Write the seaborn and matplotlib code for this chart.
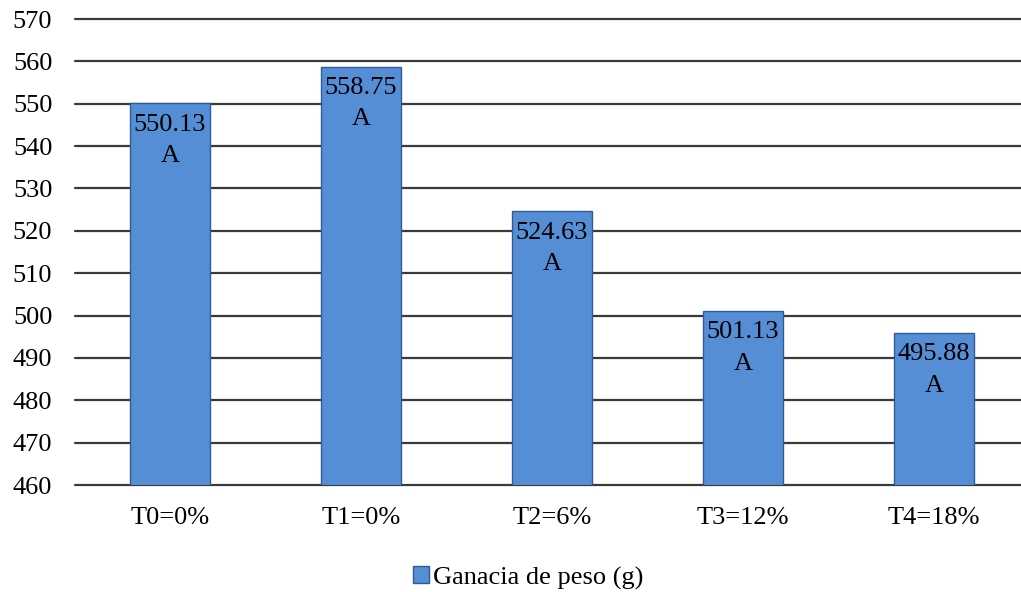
import matplotlib
matplotlib.use("Agg")
import matplotlib.pyplot as plt
import seaborn as sns
import pandas as pd
from matplotlib.patches import Patch

tratamientos = ["T0=0%", "T1=0%", "T2=6%", "T3=12%", "T4=18%"]
ganancia = [550.13, 558.75, 524.63, 501.13, 495.88]
letras = ["A", "A", "A", "A", "A"]
serie = "Ganacia de peso (g)"

df = pd.DataFrame({"Tratamiento": tratamientos, serie: ganancia})

sns.set_theme(style="white")
plt.rcParams["font.family"] = ["Liberation Serif", "DejaVu Serif"]
plt.rcParams["font.size"] = 19
plt.rcParams["text.color"] = "black"

bar_color = "#558ED5"
edge_color = "#2F5C97"

fig = plt.figure(figsize=(10.21, 5.92), dpi=100)
ax = fig.add_axes([74.5 / 1021, 1 - 485 / 592, 955 / 1021, 466 / 592])

sns.barplot(data=df, x="Tratamiento", y=serie, color=bar_color, width=0.42,
            edgecolor=edge_color, linewidth=1.0, saturation=1, ax=ax, zorder=3)

ax.set_ylim(460, 570)
ax.set_yticks(range(460, 571, 10))
ax.yaxis.grid(True, color="#3a3a3a", linewidth=1.6, zorder=0)
for gl in ax.get_ygridlines():
    gl.set_clip_on(False)
ax.set_axisbelow(True)
for s in ax.spines.values():
    s.set_visible(False)
ax.tick_params(axis="both", length=0, labelsize=19, colors="black")
ax.tick_params(axis="y", pad=16)
ax.tick_params(axis="x", pad=16)
ax.set_xlabel("")
ax.set_ylabel("")
ax.set_xlim(-0.5, 4.5)

for i, (v, l) in enumerate(zip(ganancia, letras)):
    ax.annotate(f"{v:.2f}\n{l}", xy=(i, v), xytext=(0, -7.5), textcoords="offset points",
                ha="center", va="top", fontsize=19, linespacing=1.55, color="black", zorder=4)

handle = Patch(facecolor=bar_color, edgecolor=edge_color, linewidth=1.0)
fig.legend([handle], [serie], loc="center", bbox_to_anchor=(528 / 1021, 1 - 578 / 592),
           frameon=False, fontsize=19, handlelength=0.6, handleheight=0.6,
           handletextpad=0.15, labelcolor="black")

fig.savefig("out.png", dpi=100)
